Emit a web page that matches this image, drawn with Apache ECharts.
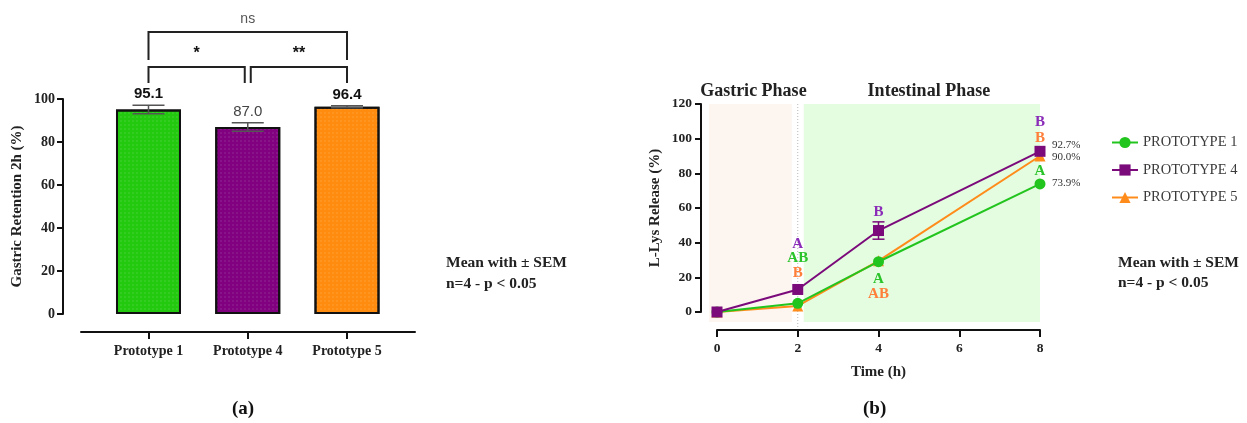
<!DOCTYPE html>
<html>
<head>
<meta charset="utf-8">
<script src="https://cdn.jsdelivr.net/npm/echarts@6/dist/echarts.min.js"></script>
<style>
html,body{margin:0;padding:0;background:#fff;}
#chart{width:1247px;height:423px;}
</style>
</head>
<body>
<div id="chart"></div>
<script>
// ---------- Data: panel (a) ----------
const barCategories = ['Prototype 1', 'Prototype 4', 'Prototype 5'];
const barMeans = [95.1, 87.0, 96.4];
const barSEM = [2.0, 2.0, 0.5];
const barValueLabels = ['95.1', '87.0', '96.4'];
// significance brackets: [fromIndex, toIndex, text, level]
const sigBrackets = [[0, 1, '*', 0], [1, 2, '**', 0], [0, 2, 'ns', 1]];
const leftYTicks = [0, 20, 40, 60, 80, 100];

// ---------- Data: panel (b) ----------
const timeH = [0, 2, 4, 8];
const seriesNames = ['PROTOTYPE 1', 'PROTOTYPE 4', 'PROTOTYPE 5'];
const p1Release = [0, 5.0, 29.0, 73.9];
const p4Release = [0, 13.0, 47.0, 92.7];
const p5Release = [0, 3.5, 29.5, 90.0];
const p1SEM = [0.3, 0.8, 1.0, 1.0];
const p4SEM = [0.5, 1.0, 5.0, 1.5];
const p5SEM = [0.3, 0.8, 1.0, 1.0];
// letters: [time, anchor value, text, series index(0=P1,1=P4,2=P5)]
const groupLetters = [
  [2, 39.4, 'A', 1], [2, 30.8, 'AB', 0], [2, 22.7, 'B', 2],
  [4, 57.9, 'B', 1], [4, 19.2, 'A', 0], [4, 10.6, 'AB', 2],
  [8, 109.8, 'B', 1], [8, 100.6, 'B', 2], [8, 81.0, 'A', 0]
];
const phases = [[0, 2, 'Gastric Phase'], [2, 8, 'Intestinal Phase']];

// ---------- Styles ----------
const barColors = ['#22c90f', '#800080', '#ff8c0f'];
const lineColors = ['#22c41e', '#7b0a7b', '#ff8c1a'];
const letterColors = ['#2ac42a', '#8a2cb8', '#ff7f3a'];
const SERIF = '"Liberation Serif", "DejaVu Serif", serif';
const SANS = '"Liberation Sans", Arial, sans-serif';

const chart = echarts.init(document.getElementById('chart'), null, {renderer: 'canvas'});

const barData = barMeans.map((v, i) => ({
  value: [i + 1, v],
  itemStyle: {color: barColors[i]}
}));
const errData = barMeans.map((v, i) => [i + 1, v, barSEM[i], i]);

function lineSeries(idx, name, vals, symbol, size, z, labelOffset) {
  return {
    type: 'line', name: name, xAxisIndex: 1, yAxisIndex: 1,
    data: timeH.map((t, i) => [t, vals[i]]),
    symbol: symbol, symbolSize: size, z: z,
    lineStyle: {color: lineColors[idx], width: 2},
    itemStyle: {color: lineColors[idx]},
    endLabel: {
      show: true, distance: 12, offset: labelOffset,
      fontFamily: SERIF, fontSize: 11, color: '#333',
      formatter: p => p.value[1].toFixed(1) + '%'
    }
  };
}

const errLineData = [];
[[p1Release, p1SEM, 0], [p4Release, p4SEM, 1], [p5Release, p5SEM, 2]].forEach(([vals, sems, s]) => {
  timeH.forEach((t, i) => errLineData.push([t, vals[i], sems[i], s]));
});

const axisNameStyle = {fontFamily: SERIF, fontWeight: 'bold', fontSize: 15, color: '#222'};

const option = {
  animation: false,
  backgroundColor: '#fff',
  grid: [
    {left: 81, width: 334, top: 99, height: 215, containLabel: false},
    {left: 717, right: 207, top: 104, bottom: 111, containLabel: false}
  ],
  xAxis: [
    {
      type: 'value', gridIndex: 0, min: 0.32, max: 3.685, offset: 18,
      axisLine: {onZero: false, lineStyle: {color: '#111', width: 2}},
      axisTick: {show: true, length: 7, lineStyle: {color: '#111', width: 2}, customValues: [1, 2, 3]},
      axisLabel: {customValues: [1, 2, 3], formatter: v => barCategories[Math.round(v) - 1] || '',
        fontFamily: SERIF, fontWeight: 'bold', fontSize: 14, color: '#222', margin: 12},
      splitLine: {show: false}
    },
    {
      type: 'value', gridIndex: 1, min: 0, max: 8, interval: 2, offset: 18,
      name: 'Time (h)', nameLocation: 'middle', nameGap: 35,
      nameTextStyle: axisNameStyle,
      axisLine: {onZero: false, lineStyle: {color: '#111', width: 2}},
      axisTick: {show: true, length: 7, lineStyle: {color: '#111', width: 2}},
      axisLabel: {fontFamily: SERIF, fontWeight: 'bold', fontSize: 13.5, color: '#222', margin: 12},
      splitLine: {show: false}
    }
  ],
  yAxis: [
    {
      type: 'value', gridIndex: 0, min: 0, max: 100, interval: 20, offset: 18,
      name: 'Gastric Retention 2h (%)', nameLocation: 'middle', nameGap: 38,
      nameTextStyle: axisNameStyle,
      axisLine: {show: true, onZero: false, lineStyle: {color: '#111', width: 2}},
      axisTick: {show: true, length: 6, lineStyle: {color: '#111', width: 2}},
      axisLabel: {fontFamily: SERIF, fontWeight: 'bold', fontSize: 14, color: '#222', margin: 8},
      splitLine: {show: false}
    },
    {
      type: 'value', gridIndex: 1, min: 0, max: 120, interval: 20, offset: 16,
      name: 'L-Lys Release (%)', nameLocation: 'middle', nameGap: 38,
      nameTextStyle: axisNameStyle,
      axisLine: {show: true, onZero: false, lineStyle: {color: '#111', width: 2}},
      axisTick: {show: true, length: 6, lineStyle: {color: '#111', width: 2}},
      axisLabel: {fontFamily: SERIF, fontWeight: 'bold', fontSize: 13.5, color: '#222', margin: 9},
      splitLine: {show: false}
    }
  ],
  legend: {
    data: seriesNames, orient: 'vertical', left: 1106, top: 130,
    itemWidth: 26, itemHeight: 14, itemGap: 12.5,
    textStyle: {fontFamily: SERIF, fontSize: 14.5, color: '#3a3a3a'}
  },
  series: [
    {
      type: 'bar', xAxisIndex: 0, yAxisIndex: 0, barWidth: 65, data: barData, z: 2,
      itemStyle: {
        borderColor: '#111', borderWidth: 2,
        decal: {symbol: 'rect', symbolSize: 0.6, color: 'rgba(255,255,255,0.25)',
          dashArrayX: [1.6, 1.6], dashArrayY: [1.6, 1.6]}
      }
    },
    {
      type: 'custom', xAxisIndex: 0, yAxisIndex: 0, data: errData, z: 5, clip: false,
      encode: {x: 0, y: 1},
      renderItem: (params, api) => {
        const x = api.value(0), m = api.value(1), s = api.value(2), i = api.value(3);
        const top = api.coord([x, m + s]);
        const bot = api.coord([x, m - s]);
        const hw = 16;
        const ls = {stroke: '#555', lineWidth: 1.5};
        return {type: 'group', children: [
          {type: 'line', shape: {x1: top[0], y1: top[1], x2: bot[0], y2: bot[1]}, style: ls},
          {type: 'line', shape: {x1: top[0] - hw, y1: top[1], x2: top[0] + hw, y2: top[1]}, style: ls},
          {type: 'line', shape: {x1: bot[0] - hw, y1: bot[1], x2: bot[0] + hw, y2: bot[1]}, style: ls},
          {type: 'text', style: {x: top[0], y: top[1] - 11, text: barValueLabels[i],
            align: 'center', verticalAlign: 'middle', fontFamily: SANS, fontSize: 15,
            fontWeight: i === 1 ? 'normal' : 'bold', fill: i === 1 ? '#444' : '#111'}}
        ]};
      }
    },
    {
      type: 'custom', xAxisIndex: 0, yAxisIndex: 0, data: sigBrackets, z: 5, clip: false,
      encode: {x: 0, y: 0},
      renderItem: (params, api) => {
        const a = api.value(0), b = api.value(1), lvl = api.value(3);
        const txt = sigBrackets[params.dataIndex][2];
        const top = api.coord([1, 100])[1];
        const y = lvl === 0 ? top - 32 : top - 67;
        const drop = lvl === 0 ? 16 : 28;
        let x1 = api.coord([a + 1, 100])[0];
        let x2 = api.coord([b + 1, 100])[0];
        if (lvl === 0) {
          if (a === 1) x1 += 3;
          if (b === 1) x2 -= 3;
        }
        const ls = {stroke: '#222', lineWidth: 2, fill: null};
        return {type: 'group', children: [
          {type: 'polyline', shape: {points: [[x1, y + drop], [x1, y], [x2, y], [x2, y + drop]]}, style: ls},
          {type: 'text', style: {x: (x1 + x2) / 2, y: y - 13, text: txt, align: 'center',
            verticalAlign: 'middle', fontFamily: SANS, fontSize: lvl === 0 ? 16 : 14,
            fontWeight: lvl === 0 ? 'bold' : 'normal', fill: lvl === 0 ? '#111' : '#555'}}
        ]};
      }
    },
    {
      type: 'custom', xAxisIndex: 1, yAxisIndex: 1, data: phases, z: 0, clip: false, silent: true,
      encode: {x: 0, y: 0},
      renderItem: (params, api) => {
        const s = api.value(0), e = api.value(1);
        const i = params.dataIndex;
        const yTop = api.coord([0, 120])[1];
        const yBot = api.coord([0, 0])[1] + 10;
        let xs = api.coord([s, 0])[0], xe = api.coord([e, 0])[0];
        if (i === 0) { xs -= 8; xe -= 6; } else { xs += 6; }
        const children = [
          {type: 'rect', shape: {x: xs, y: yTop, width: xe - xs, height: yBot - yTop},
            style: {fill: i === 0 ? '#fcf5f0' : '#e4fce0'}},
          {type: 'text', style: {x: (xs + xe) / 2 + (i === 0 ? 3 : 7), y: yTop - 13, text: phases[i][2],
            align: 'center', verticalAlign: 'middle', fontFamily: SERIF, fontWeight: 'bold',
            fontSize: 18, fill: '#222'}}
        ];
        if (i === 0) {
          const xb = api.coord([e, 0])[0];
          children.push({type: 'line', shape: {x1: xb, y1: yTop, x2: xb, y2: api.coord([0, 0])[1] + 18},
            style: {stroke: '#b8b8b8', lineWidth: 1, lineDash: [1, 2]}});
        }
        return {type: 'group', children: children};
      }
    },
    lineSeries(2, 'PROTOTYPE 5', p5Release, 'triangle', 11, 3, [0, 1]),
    lineSeries(0, 'PROTOTYPE 1', p1Release, 'circle', 11, 4, [0, -1]),
    lineSeries(1, 'PROTOTYPE 4', p4Release, 'rect', 11, 5, [0, -6]),
    {
      type: 'custom', xAxisIndex: 1, yAxisIndex: 1, data: errLineData, z: 6, clip: false, silent: true,
      encode: {x: 0, y: 1},
      renderItem: (params, api) => {
        const x = api.value(0), m = api.value(1), s = api.value(2), k = api.value(3);
        if (s < 2) return {type: 'group', children: []};
        const top = api.coord([x, m + s]), bot = api.coord([x, m - s]);
        const ls = {stroke: lineColors[k], lineWidth: 1.5};
        return {type: 'group', children: [
          {type: 'line', shape: {x1: top[0], y1: top[1], x2: bot[0], y2: bot[1]}, style: ls},
          {type: 'line', shape: {x1: top[0] - 6, y1: top[1], x2: top[0] + 6, y2: top[1]}, style: ls},
          {type: 'line', shape: {x1: bot[0] - 6, y1: bot[1], x2: bot[0] + 6, y2: bot[1]}, style: ls}
        ]};
      }
    },
    {
      type: 'custom', xAxisIndex: 1, yAxisIndex: 1, data: groupLetters, z: 7, clip: false, silent: true,
      encode: {x: 0, y: 1},
      renderItem: (params, api) => {
        const p = api.coord([api.value(0), api.value(1)]);
        const d = groupLetters[params.dataIndex];
        return {type: 'text', style: {x: p[0], y: p[1], text: d[2], align: 'center',
          verticalAlign: 'middle', fontFamily: SERIF, fontWeight: 'bold', fontSize: 15,
          fill: letterColors[d[3]]}};
      }
    }
  ],
  graphic: [
    {type: 'text', left: 446, top: 255, style: {text: 'Mean with ± SEM', fontFamily: SERIF, fontWeight: 'bold', fontSize: 15.5, fill: '#222'}},
    {type: 'text', left: 446, top: 276, style: {text: 'n=4 - p < 0.05', fontFamily: SERIF, fontWeight: 'bold', fontSize: 15.5, fill: '#222'}},
    {type: 'text', left: 1118, top: 255, style: {text: 'Mean with ± SEM', fontFamily: SERIF, fontWeight: 'bold', fontSize: 15.5, fill: '#222'}},
    {type: 'text', left: 1118, top: 275, style: {text: 'n=4 - p < 0.05', fontFamily: SERIF, fontWeight: 'bold', fontSize: 15.5, fill: '#222'}},
    {type: 'text', left: 232, top: 400, style: {text: '(a)', fontFamily: SERIF, fontWeight: 'bold', fontSize: 19, fill: '#111'}},
    {type: 'text', left: 863, top: 400, style: {text: '(b)', fontFamily: SERIF, fontWeight: 'bold', fontSize: 19, fill: '#111'}}
  ]
};
chart.setOption(option);
</script>
</body>
</html>
